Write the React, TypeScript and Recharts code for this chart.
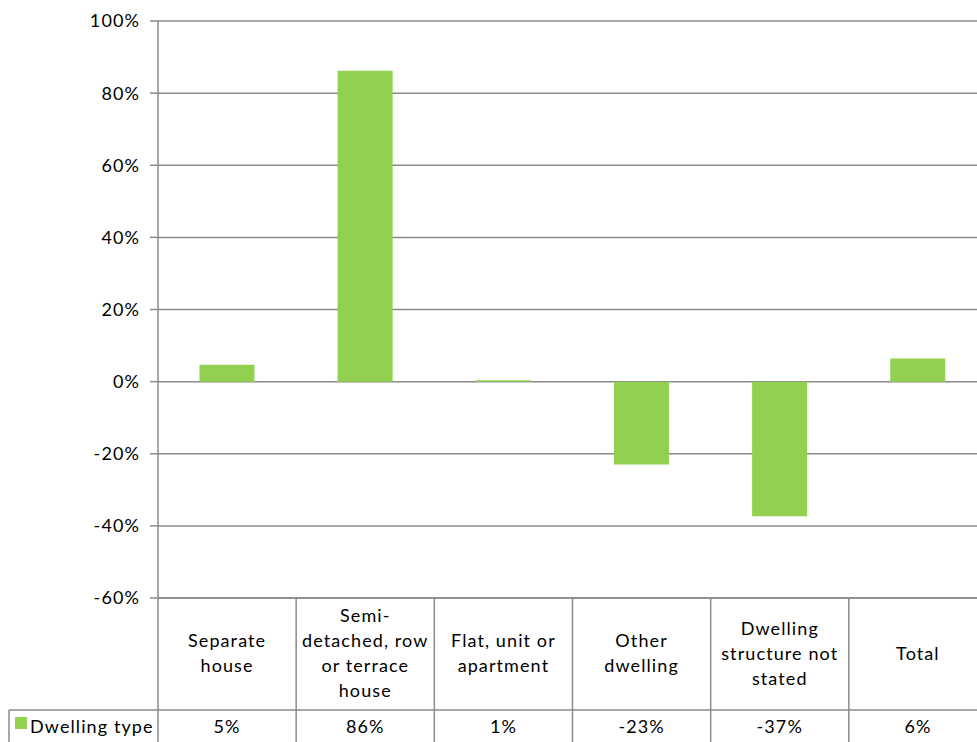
import { BarChart, Bar, XAxis, YAxis, CartesianGrid } from 'recharts'

const categoryLines: string[][] = [
  ['Separate', 'house'],
  ['Semi-', 'detached, row', 'or terrace', 'house'],
  ['Flat, unit or', 'apartment'],
  ['Other', 'dwelling'],
  ['Dwelling', 'structure not', 'stated'],
  ['Total'],
]
const changeValues = [4.7, 86.2, 0.4, -23.0, -37.3, 6.4]
const tableLabels = ['5%', '86%', '1%', '-23%', '-37%', '6%']
const yTicks = [-60, -40, -20, 0, 20, 40, 60, 80, 100]
const seriesName = 'Dwelling type'

const data = categoryLines.map((lines, i) => ({
  name: lines.join(' '),
  value: changeValues[i],
}))

const FONT = 'Lato, "Open Sans", sans-serif'
const FS = 18
const LS = 1.1
const GRID = '#8a8a8a'
const GREEN = '#92D050'
const TEXT = '#000'

function TableTick(props: any) {
  const { x, y, payload, index } = props
  const half = payload && payload.offset ? payload.offset : 69
  const left = x - half
  const right = x + half
  const lines = categoryLines[index] || []
  const lineH = 25
  const midY = y + 57
  const firstY = midY - ((lines.length - 1) * lineH) / 2
  const rowY = y + 112
  const textProps = {
    fontFamily: FONT,
    fontSize: FS,
    letterSpacing: LS,
    fill: TEXT,
    dominantBaseline: 'middle' as const,
  }
  return (
    <g>
      <line x1={left} y1={y} x2={left} y2={y + 200} stroke={GRID} strokeWidth={1.5} />
      {index === categoryLines.length - 1 && (
        <line x1={right} y1={y} x2={right} y2={y + 200} stroke={GRID} strokeWidth={1.5} />
      )}
      <line x1={left} y1={rowY} x2={right} y2={rowY} stroke={GRID} strokeWidth={1.5} />
      {index === 0 && (
        <g>
          <line x1={left - 149} y1={rowY} x2={left} y2={rowY} stroke={GRID} strokeWidth={1.5} />
          <line x1={left - 149} y1={rowY} x2={left - 149} y2={y + 200} stroke={GRID} strokeWidth={1.5} />
          <rect x={left - 143} y={rowY + 7} width={12} height={12} fill={GREEN} />
          <text x={left - 128} y={rowY + 18} {...textProps}>
            {seriesName}
          </text>
        </g>
      )}
      {lines.map((ln, i) => (
        <text key={i} x={x} y={firstY + i * lineH} textAnchor="middle" {...textProps}>
          {ln}
        </text>
      ))}
      <text x={x} y={rowY + 18} textAnchor="middle" {...textProps}>
        {tableLabels[index]}
      </text>
    </g>
  )
}

export default function App() {
  return (
    <div
      style={{
        position: 'absolute',
        left: 0,
        top: 0,
        width: 977,
        height: 742,
        overflow: 'hidden',
        background: '#fff',
      }}
    >
      <BarChart
        width={995}
        height={760}
        data={data}
        margin={{ top: 21, right: 8, bottom: 0, left: 0 }}
        barCategoryGap="30%"
      >
        <CartesianGrid vertical={false} stroke={GRID} strokeWidth={1.5} />
        <XAxis
          dataKey="name"
          height={162}
          interval={0}
          tickSize={0}
          tickMargin={0}
          tickLine={false}
          axisLine={{ stroke: GRID, strokeWidth: 1.5 }}
          tick={<TableTick />}
        />
        <YAxis
          width={158}
          domain={[-60, 100]}
          ticks={yTicks}
          interval={0}
          tickSize={8}
          tickMargin={10}
          tickFormatter={(v: number) => `${v}%`}
          axisLine={{ stroke: GRID, strokeWidth: 1.5 }}
          tickLine={{ stroke: GRID, strokeWidth: 1.5 }}
          tick={{ fill: TEXT, fontSize: FS, fontFamily: FONT, letterSpacing: LS }}
        />
        <Bar dataKey="value" fill={GREEN} isAnimationActive={false} />
      </BarChart>
    </div>
  )
}
